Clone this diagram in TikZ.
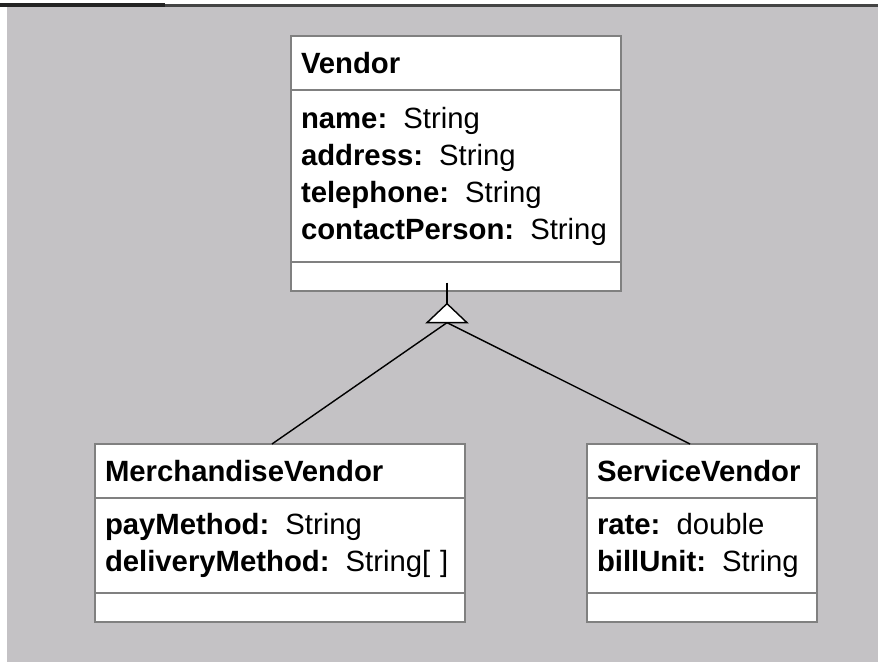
\documentclass[tikz,border=0pt]{standalone}
\usepackage{fontspec}
\setmainfont{Liberation Sans}
\usetikzlibrary{positioning}
\definecolor{canvasgray}{RGB}{196,194,197}
\definecolor{boxgray}{RGB}{128,128,128}
\definecolor{bardark}{RGB}{35,35,35}
\newcommand{\umlfont}{\fontsize{25}{31.6}\selectfont}
\newcommand{\attr}[2]{\textbf{#1:}\hspace{0.55em}#2}

\begin{document}
\begin{tikzpicture}[
    umlhead/.style={rectangle, draw=boxgray, line width=1.7pt, fill=white,
        outer sep=0pt, inner xsep=0.3cm, inner ysep=0pt, text width=#1,
        minimum height=1.62cm, align=left, font=\umlfont\bfseries},
    umlattr/.style={rectangle, draw=boxgray, line width=1.7pt, fill=white,
        outer sep=0pt, inner xsep=0.3cm, inner ysep=0pt, text width=#1,
        align=left, font=\umlfont},
    umlops/.style={rectangle, draw=boxgray, line width=1.7pt, fill=white,
        outer sep=0pt, inner xsep=0.3cm, inner ysep=0pt, text width=#1,
        minimum height=0.86cm},
    genline/.style={line width=1.2pt, black},
    stemline/.style={line width=1.6pt, black}
]
    \useasboundingbox (0,0) rectangle (26.34,19.86);

    % canvas with the window edge along the top and left
    \fill[canvasgray] (0,0) rectangle (26.34,19.86);
    \fill[white] (0,0) rectangle (0.21,19.65);
    \fill[white] (0,19.65) rectangle (26.34,19.86);
    \fill[bardark] (0,19.65) rectangle (4.95,19.77);
    \fill[bardark!85] (4.95,19.65) rectangle (26.34,19.74);

    % superclass
    \node[umlhead=9.3cm, anchor=north] (vhead) at (13.68,18.78) {Vendor};
    \node[umlattr=9.3cm, minimum height=5.16cm, below=0pt of vhead] (vattr)
        {\attr{name}{String}\\ \attr{address}{String}\\
         \attr{telephone}{String}\\ \attr{contactPerson}{String}};
    \node[umlops=9.3cm, below=0pt of vattr] (vops) {};

    % subclasses
    \node[umlhead=10.5cm, anchor=north] (mhead) at (8.4,6.54) {MerchandiseVendor};
    \node[umlattr=10.5cm, minimum height=2.85cm, below=0pt of mhead] (mattr)
        {\attr{payMethod}{String}\\ \attr{deliveryMethod}{String[\,\,]}};
    \node[umlops=10.5cm, below=0pt of mattr] (mops) {};

    \node[umlhead=6.3cm, anchor=north] (shead) at (21.06,6.54) {ServiceVendor};
    \node[umlattr=6.3cm, minimum height=2.85cm, below=0pt of shead] (sattr)
        {\attr{rate}{double}\\ \attr{billUnit}{String}};
    \node[umlops=6.3cm, below=0pt of sattr] (sops) {};

    % generalization: stem, hollow triangle, two branches
    \coordinate (stemtop) at ([xshift=-0.27cm,yshift=0.24cm]vops.south);
    \coordinate (apex) at ([xshift=-0.27cm,yshift=-0.39cm]vops.south);
    \coordinate (tribase) at ([yshift=-0.57cm]apex);
    \draw[genline] (tribase) -- ([xshift=-0.24cm]mhead.north);
    \draw[genline] (tribase) -- ([xshift=-0.36cm]shead.north);
    \draw[stemline] (stemtop) -- (apex);
    \draw[genline, fill=white, line join=miter]
        (apex) -- ([xshift=-0.6cm]tribase) -- ([xshift=0.6cm]tribase) -- cycle;
\end{tikzpicture}
\end{document}
